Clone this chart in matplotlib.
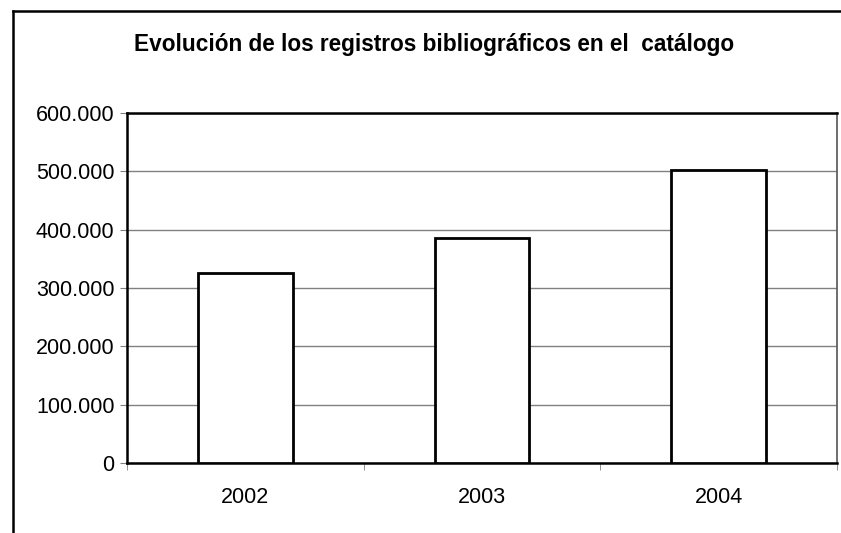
import numpy as np
import matplotlib.pyplot as plt
from matplotlib.ticker import FuncFormatter, FixedLocator
from matplotlib.lines import Line2D

# Datos
anios = ["2002", "2003", "2004"]
registros = [325000, 386000, 503000]

plt.rcParams['font.family'] = ['Liberation Sans', 'DejaVu Sans']

fig = plt.figure(figsize=(8.41, 5.33), dpi=100)
ax = fig.add_axes([127 / 841, 70 / 533, 710 / 841, 350 / 533])

x = np.arange(len(anios))
ax.bar(x, registros, width=0.4, color="white", edgecolor="black", linewidth=2, zorder=3)

ax.set_xlim(-0.5, len(anios) - 0.5)
ax.set_ylim(0, 600000)
ax.set_yticks(np.arange(0, 600001, 100000))
ax.yaxis.set_major_formatter(FuncFormatter(lambda v, p: f"{int(v):,}".replace(",", ".")))
ax.set_xticks(x)
ax.set_xticklabels(anios)
ax.xaxis.set_minor_locator(FixedLocator(np.arange(-0.5, len(anios), 1.0)))
ax.tick_params(axis="x", which="major", length=0, pad=17, labelsize=15.5)
ax.tick_params(axis="x", which="minor", length=5, direction="out", color="gray")
ax.tick_params(axis="y", length=5, direction="out", color="gray", labelsize=15.5, pad=4)

ax.grid(axis="y", color="#808080", linewidth=1, zorder=0)
for s in ["top", "left", "bottom"]:
    ax.spines[s].set_linewidth(1.8)
    ax.spines[s].set_color("black")
ax.spines["right"].set_linewidth(1.2)
ax.spines["right"].set_color("#555555")

fig.text(434 / 841, 1 - 45 / 533, "Evolución de los registros bibliográficos en el  catálogo",
         ha="center", va="center", fontsize=16.3, fontweight="bold")

# marco exterior (solo se ve arriba e izquierda)
fig.add_artist(Line2D([13 / 841, 13 / 841], [0, 1 - 11 / 533], color="black", linewidth=1.8))
fig.add_artist(Line2D([13 / 841, 1], [1 - 11 / 533, 1 - 11 / 533], color="black", linewidth=1.8))

fig.savefig("out.png", dpi=100)
